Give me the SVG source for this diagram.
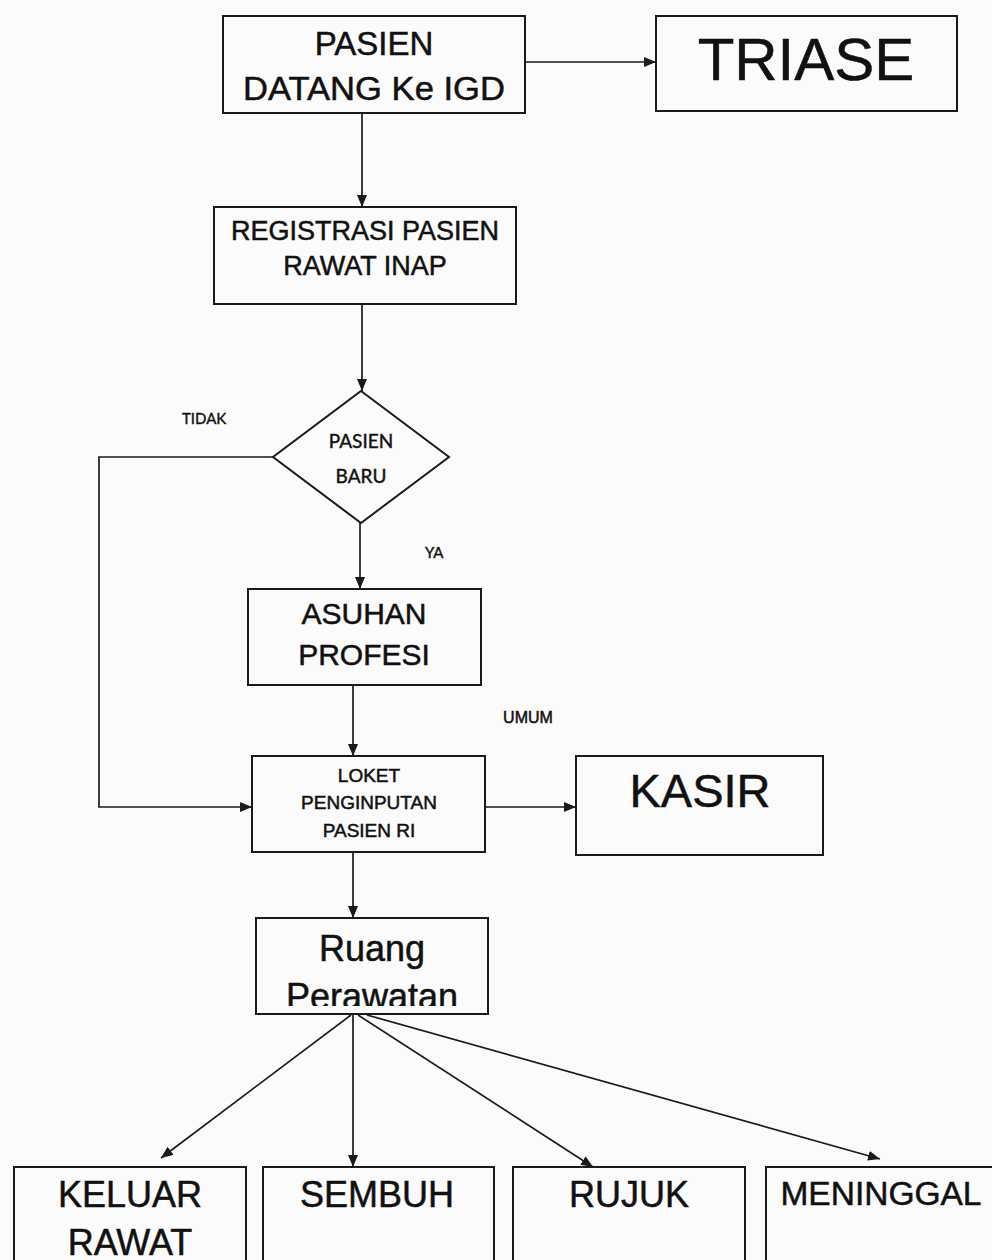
<svg xmlns="http://www.w3.org/2000/svg" width="992" height="1260" viewBox="0 0 992 1260">
<defs>
<marker id="arr" viewBox="0 0 12 10" refX="12" refY="5" markerWidth="12" markerHeight="10" markerUnits="userSpaceOnUse" orient="auto">
<path d="M0,0 L12,5 L0,10 z" fill="#1a1a1a"/>
</marker>
<clipPath id="ruangClip"><rect x="256" y="919" width="231" height="87"/></clipPath>
</defs>
<style>
.box{fill:none;stroke:#1a1a1a;stroke-width:2}
.t{font-family:"Liberation Sans",Arial,sans-serif;fill:#111;stroke:#111;stroke-width:0.5;text-anchor:middle}
.h{font-family:Lato,"Noto Sans",sans-serif;fill:#111;stroke:#111;stroke-width:0.4}
.c{fill:none;stroke:#1a1a1a;stroke-width:1.7}
</style>
<rect x="0" y="0" width="992" height="1260" fill="#fbfbfb"/>

<g id="pasien">
<rect class="box" x="223" y="16" width="302" height="97"/>
<text class="t" x="374" y="55" font-size="33">PASIEN</text>
<text class="t" x="374" y="100" font-size="33" textLength="262" lengthAdjust="spacingAndGlyphs">DATANG Ke IGD</text>
</g>

<g id="triase">
<rect class="box" x="656" y="16" width="301" height="95"/>
<text class="t" x="806" y="80" font-size="60">TRIASE</text>
</g>

<g id="registrasi">
<rect class="box" x="214" y="207" width="302" height="97"/>
<text class="t" x="365" y="240" font-size="27">REGISTRASI PASIEN</text>
<text class="t" x="365" y="275" font-size="27">RAWAT INAP</text>
</g>

<g id="pasien-baru">
<polygon class="box" points="361,391 449,457 361,523 273,457"/>
<text class="h" x="361" y="448" font-size="19" text-anchor="middle">PASIEN</text>
<text class="h" x="361" y="483" font-size="19" text-anchor="middle">BARU</text>
</g>

<g id="asuhan">
<rect class="box" x="248" y="589" width="233" height="96"/>
<text class="t" x="364" y="624" font-size="30">ASUHAN</text>
<text class="t" x="364" y="665" font-size="30">PROFESI</text>
</g>

<g id="loket">
<rect class="box" x="252" y="756" width="233" height="96"/>
<text class="t" x="369" y="782" font-size="19">LOKET</text>
<text class="t" x="369" y="809" font-size="19">PENGINPUTAN</text>
<text class="t" x="369" y="837" font-size="19">PASIEN RI</text>
</g>

<g id="kasir">
<rect class="box" x="576" y="756" width="247" height="99"/>
<text class="t" x="700" y="807" font-size="47">KASIR</text>
</g>

<g id="ruang">
<rect class="box" x="256" y="918" width="232" height="96"/>
<text class="t" x="372" y="961" font-size="36">Ruang</text>
<text class="t" x="372" y="1009" font-size="36" clip-path="url(#ruangClip)">Perawatan</text>
</g>

<g id="keluar">
<rect class="box" x="14" y="1167" width="232" height="100"/>
<text class="t" x="130" y="1207" font-size="36">KELUAR</text>
<text class="t" x="130" y="1255" font-size="36">RAWAT</text>
</g>

<g id="sembuh">
<rect class="box" x="263" y="1167" width="231" height="100"/>
<text class="t" x="377" y="1207" font-size="36">SEMBUH</text>
</g>

<g id="rujuk">
<rect class="box" x="513" y="1167" width="232" height="100"/>
<text class="t" x="629" y="1207" font-size="36">RUJUK</text>
</g>

<g id="meninggal">
<rect class="box" x="766" y="1167" width="232" height="100"/>
<text class="t" x="881" y="1205" font-size="33.5">MENINGGAL</text>
</g>

<g id="connectors">
<path class="c" d="M525,62 H656" marker-end="url(#arr)"/>
<path class="c" d="M362,113 V207" marker-end="url(#arr)"/>
<path class="c" d="M362,304 V391" marker-end="url(#arr)"/>
<path class="c" d="M360,523 V589" marker-end="url(#arr)"/>
<path class="c" d="M273,457 H99 V807 H252" marker-end="url(#arr)"/>
<path class="c" d="M353,685 V756" marker-end="url(#arr)"/>
<path class="c" d="M485,807 H576" marker-end="url(#arr)"/>
<path class="c" d="M353,852 V918" marker-end="url(#arr)"/>
<path class="c" d="M351,1015 L161,1158" marker-end="url(#arr)"/>
<path class="c" d="M353,1015 V1167" marker-end="url(#arr)"/>
<path class="c" d="M358,1015 L593,1167" marker-end="url(#arr)"/>
<path class="c" d="M367,1015 L880,1159" marker-end="url(#arr)"/>
<text class="h" x="182" y="424" font-size="15">TIDAK</text>
<text class="h" x="425" y="558" font-size="15">YA</text>
<text class="t" x="528" y="723" font-size="16">UMUM</text>
</g>
</svg>
